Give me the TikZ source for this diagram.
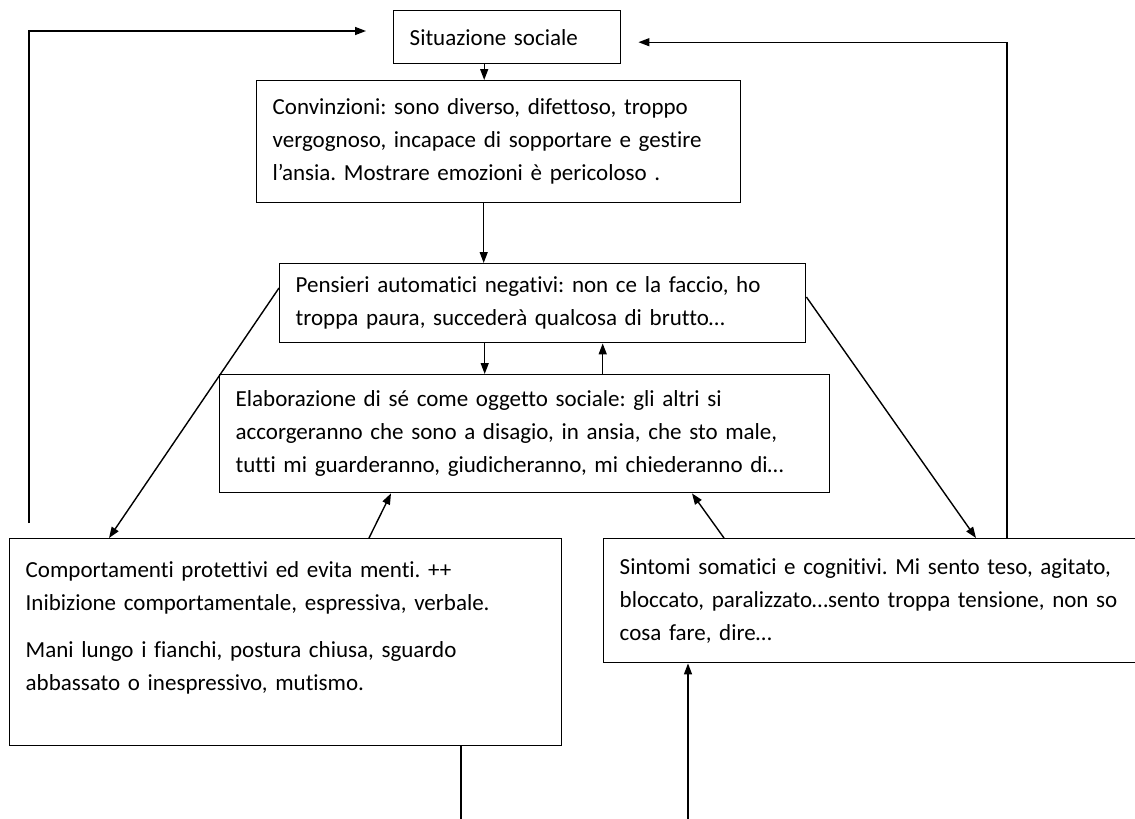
\documentclass[tikz,border=0pt]{standalone}
\usepackage{fontspec}
\setmainfont[Ligatures=NoCommon, WordSpace=0.85]{Carlito}
\frenchspacing
\usetikzlibrary{arrows.meta}

\begin{document}
\begin{tikzpicture}[x=1pt, y=-1pt, >={Triangle[length=11pt, width=8pt]}, line width=1.4pt,
    box/.style={draw, rectangle, anchor=north west, align=left, inner xsep=16pt, inner ysep=0pt,
                font=\fontsize{23}{33}\selectfont}]
     \useasboundingbox (0,0) rectangle (1135,819);

     \node[box, text width=195pt, minimum height=53pt]  (situazione)    at (393,10)  {Situazione sociale};
     \node[box, text width=452pt, minimum height=122pt] (convinzioni)   at (256,80)  {Convinzioni: sono diverso, difettoso, troppo\\ vergognoso, incapace di sopportare e gestire\\ l’ansia. Mostrare emozioni è pericoloso .};
     \node[box, text width=494pt, minimum height=79pt]  (pensieri)      at (279,263) {Pensieri automatici negativi: non ce la faccio, ho\\ troppa paura, succederà qualcosa di brutto…};
     \node[box, text width=578pt, minimum height=118pt] (elaborazione)  at (219,374) {Elaborazione di sé come oggetto sociale: gli altri si\\ accorgeranno che sono a disagio, in ansia, che sto male,\\ tutti mi guarderanno, giudicheranno, mi chiederanno di…};
     \node[box, text width=520pt, minimum height=207pt] (comportamenti) at (9,538)   {Comportamenti protettivi ed evita menti. ++\\ Inibizione comportamentale, espressiva, verbale.\\[14pt] Mani lungo i fianchi, postura chiusa, sguardo\\ abbassato o inespressivo, mutismo.\\ \mbox{}};
     \node[box, text width=513pt, minimum height=124pt] (sintomi)       at (603,538) {Sintomi somatici e cognitivi. Mi sento teso, agitato,\\ bloccato, paralizzato…sento troppa tensione, non so\\ cosa fare, dire…};

     % free ends
     \coordinate (outL) at (461,819);
     \coordinate (inR)  at (688,819);

     \draw[->] ([xshift=-23pt]situazione.south) -- ([xshift=-23pt]situazione.south |- convinzioni.north);
     \draw[->] ([xshift=-15pt]convinzioni.south) -- ([xshift=-15pt]convinzioni.south |- pensieri.north);
     \draw[->] ([xshift=-58pt]pensieri.south) -- ([xshift=-58pt]pensieri.south |- elaborazione.north);
     \draw[->] ([xshift=78pt]elaborazione.north) -- ([xshift=78pt]elaborazione.north |- pensieri.south);
     \draw[->] ([yshift=-25pt]pensieri.north west) -- ([xshift=100pt]comportamenti.north west);
     \draw[->] ([yshift=-34pt]pensieri.north east) -- ([xshift=373pt]sintomi.north west);
     \draw[->] ([xshift=360pt]comportamenti.north west) -- ([xshift=172pt]elaborazione.south west);
     \draw[->] ([xshift=121pt]sintomi.north west) -- ([xshift=473pt]elaborazione.south west);
     \draw[->] ([xshift=20pt, yshift=15pt]comportamenti.north west) |- ([xshift=-27pt, yshift=-21pt]situazione.north west);
     \draw[->] ([xshift=404pt]sintomi.north west) |- ([xshift=17pt, yshift=-5pt]situazione.east);
     \draw (comportamenti.south -| outL) -- (outL);
     \draw[->] (inR) -- (inR |- sintomi.south);
\end{tikzpicture}
\end{document}
